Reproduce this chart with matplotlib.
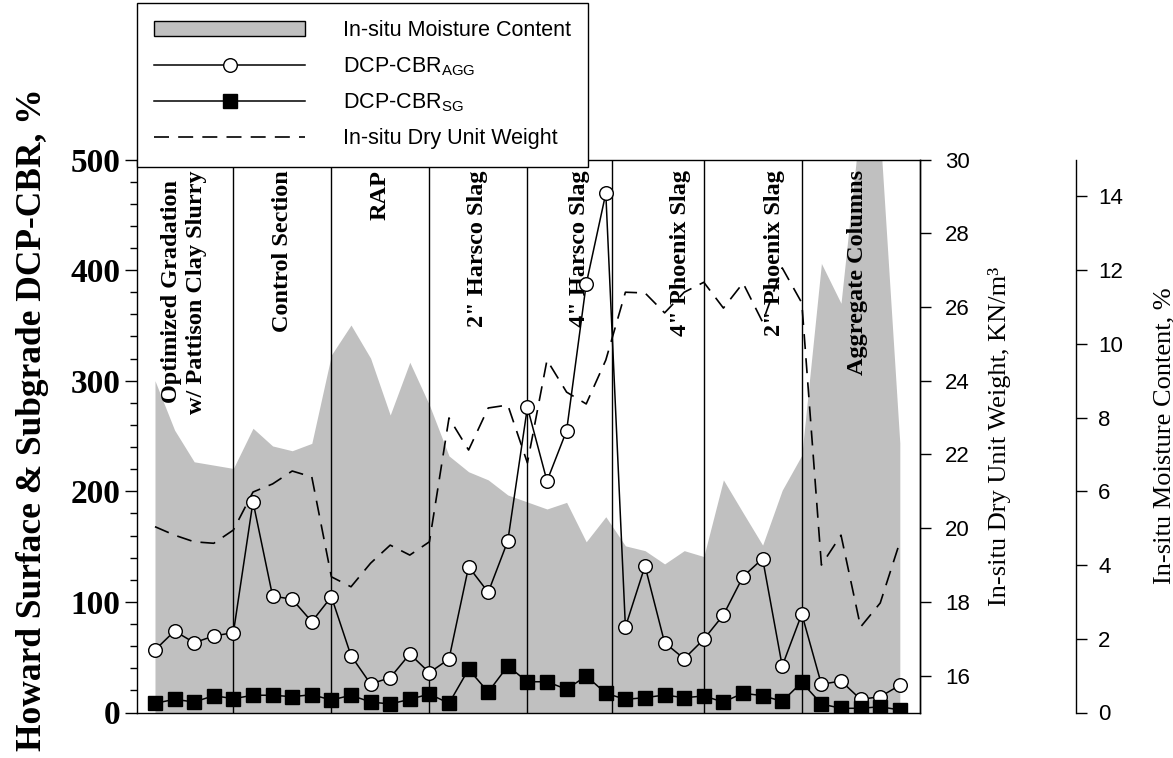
import matplotlib
matplotlib.use('Agg')
import matplotlib.pyplot as plt
from matplotlib.lines import Line2D
from matplotlib.patches import Patch
from matplotlib.ticker import MultipleLocator, FixedLocator
import matplotlib.transforms as mtransforms

plt.rcParams['mathtext.fontset'] = 'custom'
plt.rcParams['mathtext.rm'] = 'Liberation Sans'
plt.rcParams['mathtext.it'] = 'Liberation Sans:italic'
plt.rcParams['mathtext.bf'] = 'Liberation Sans:bold'

# ---------------- data ----------------
station = list(range(39))

cbr_agg = [56.5, 73.7, 63.1, 69.2, 72.2, 190.6, 105.3, 102.4, 82.1, 104.7,
           51.4, 25.8, 31.5, 52.9, 36.0, 48.4, 131.8, 108.7, 155.1, 276.0,
           209.3, 254.8, 387.4, 469.4, 77.3, 132.5, 63.1, 48.6, 66.2, 88.2,
           122.8, 139.1, 42.0, 89.1, 25.5, 28.5, 11.9, 14.3, 24.6]

cbr_sg = [8.3, 11.9, 9.5, 15.2, 12.5, 15.6, 15.6, 14.3, 16.1, 11.3,
          15.6, 9.5, 7.7, 11.9, 16.7, 8.3, 39.1, 18.5, 42.0, 27.8,
          27.8, 21.0, 33.0, 17.4, 11.9, 13.4, 15.8, 13.4, 14.9, 9.5,
          17.4, 15.2, 10.1, 27.3, 7.7, 3.8, 3.8, 5.2, 2.3]

moisture = [9.0, 7.66, 6.8, 6.71, 6.62, 7.71, 7.23, 7.1, 7.3, 9.7,
            10.51, 9.61, 8.07, 9.5, 8.34, 6.96, 6.53, 6.31, 5.9, 5.71,
            5.52, 5.7, 4.63, 5.31, 4.52, 4.39, 4.03, 4.39, 4.23, 6.31,
            5.42, 4.54, 6.03, 6.98, 12.18, 11.1, 16.1, 15.7, 7.31]

dry_weight = [20.04, 19.81, 19.63, 19.59, 19.95, 20.98, 21.2, 21.55, 21.39, 18.68,
              18.41, 19.05, 19.54, 19.27, 19.63, 22.99, 22.12, 23.26, 23.34, 21.77,
              24.56, 23.69, 23.37, 24.56, 26.4, 26.38, 25.84, 26.4, 26.67, 25.97,
              26.65, 25.59, 27.06, 26.11, 19.0, 19.81, 17.32, 17.97, 19.62]

section_bounds = [4, 9, 14, 19, 23.3, 28, 33]
section_labels = ['Optimized Gradation\nw/ Pattison Clay Slurry', 'Control Section', 'RAP',
                  '2" Harsco Slag', '4" Harsco Slag', '4" Phoenix Slag',
                  '2" Phoenix Slag', 'Aggregate Columns']
section_label_x = [1.48, 6.53, 11.48, 16.43, 21.68, 26.79, 31.63, 35.82]

cbr_ticks = [0, 100, 200, 300, 400, 500]
weight_ticks = [16, 18, 20, 22, 24, 26, 28, 30]
moisture_ticks = [0, 2, 4, 6, 8, 10, 12, 14]

legend_labels = ['In-situ Moisture Content', r'DCP-CBR$_{\mathrm{AGG}}$',
                 r'DCP-CBR$_{\mathrm{SG}}$', 'In-situ Dry Unit Weight']

# ---------------- figure ----------------
W, H = 1173, 758
fig = plt.figure(figsize=(W / 100, H / 100), dpi=100)
ax = fig.add_axes([137 / W, (H - 712.5) / H, (920 - 137) / W, 553 / H])
ax_w = ax.twinx()
ax_m = ax.twinx()

ax_m.set_zorder(1)
ax_w.set_zorder(2)
ax.set_zorder(3)
ax.patch.set_visible(False)
ax_w.patch.set_visible(False)

serif = 'Liberation Serif'
sans = 'Liberation Sans'

# moisture fill
ax_m.fill_between(station, moisture, 0, color='#c0c0c0', lw=0, zorder=1)
for b in section_bounds:
    ax_m.axvline(b, color='black', lw=1.0, zorder=2)
trans = mtransforms.blended_transform_factory(ax_m.transData, ax_m.transAxes)
for xl, lab in zip(section_label_x, section_labels):
    ax_m.text(xl, 0.981, lab, rotation=90, ha='center', va='top', transform=trans,
              family=serif, fontweight='bold', fontsize=17.5, multialignment='center',
              linespacing=1.3, zorder=3)

# dry unit weight
ax_w.plot(station, dry_weight, color='black', lw=1.2, dashes=(9, 5.5))

# CBR
ax.plot(station, cbr_agg, '-o', color='black', mfc='white', mec='black', ms=9.8, mew=1.0, lw=1.1)
ax.plot(station, cbr_sg, '-s', color='black', mfc='black', mec='black', ms=9.5, lw=1.1)

ax.set_xlim(-0.918, 39.03)
ax.set_xticks([])
ax.set_ylim(0, 500)
ax.yaxis.set_major_locator(FixedLocator(cbr_ticks))
ax.yaxis.set_minor_locator(MultipleLocator(20))
ax.tick_params(axis='y', which='major', direction='out', length=9, width=1, pad=3, labelsize=24)
ax.tick_params(axis='y', which='minor', direction='out', length=5, width=1)
ax.tick_params(axis='y', right=False, which='both')
for t in ax.get_yticklabels():
    t.set_family(serif)
    t.set_fontweight('bold')
ax.set_ylabel('Howard Surface & Subgrade DCP-CBR, %', family=serif, fontweight='bold', fontsize=25.5)
ax.yaxis.set_label_coords(-0.113, 0.53)

ax_w.set_ylim(15, 30)
ax_w.yaxis.set_major_locator(FixedLocator(weight_ticks))
ax_w.tick_params(axis='y', direction='out', length=8, width=1, pad=10, labelsize=16)
for t in ax_w.get_yticklabels():
    t.set_family(sans)
ax_w.set_ylabel('In-situ Dry Unit Weight, KN/m³', family=serif, fontsize=19)
ax_w.yaxis.set_label_coords(1.087, 0.5)
for s in ['left', 'top', 'bottom']:
    ax_w.spines[s].set_visible(False)

ax_m.set_ylim(0, 15)
ax_m.yaxis.set_major_locator(FixedLocator(moisture_ticks))
ax_m.spines['right'].set_position(('axes', (1076 - 137) / 783))
ax_m.tick_params(axis='y', direction='out', length=8, width=1, pad=8, labelsize=16)
for t in ax_m.get_yticklabels():
    t.set_family(sans)
ax_m.set_ylabel('In-situ Moisture Content, %', family=serif, fontsize=19)
ax_m.yaxis.set_label_coords(1.2976, 0.5)
for s in ['left', 'top', 'bottom']:
    ax_m.spines[s].set_visible(False)

for a in (ax, ax_w, ax_m):
    for s in a.spines.values():
        s.set_linewidth(1.0)

handles = [Patch(facecolor='#c0c0c0', edgecolor='black', lw=1.0),
           Line2D([], [], ls='-', marker='o', color='black', mfc='white', mec='black', ms=9.8, lw=1.1),
           Line2D([], [], ls='-', marker='s', color='black', mfc='black', ms=9.5, lw=1.1),
           Line2D([], [], color='black', lw=1.2, dashes=(9, 5.5))]
leg = fig.legend(handles, legend_labels, loc='upper left',
                 bbox_to_anchor=(137 / W, (H - 3) / H), bbox_transform=fig.transFigure,
                 frameon=True, fancybox=False, edgecolor='black', framealpha=1,
                 prop={'family': sans, 'size': 15.5}, handlelength=7.0, handletextpad=1.75,
                 borderpad=0.8, labelspacing=0.65, numpoints=1, borderaxespad=0)
leg.get_frame().set_linewidth(1.0)

fig.savefig('out.png', dpi=100)
